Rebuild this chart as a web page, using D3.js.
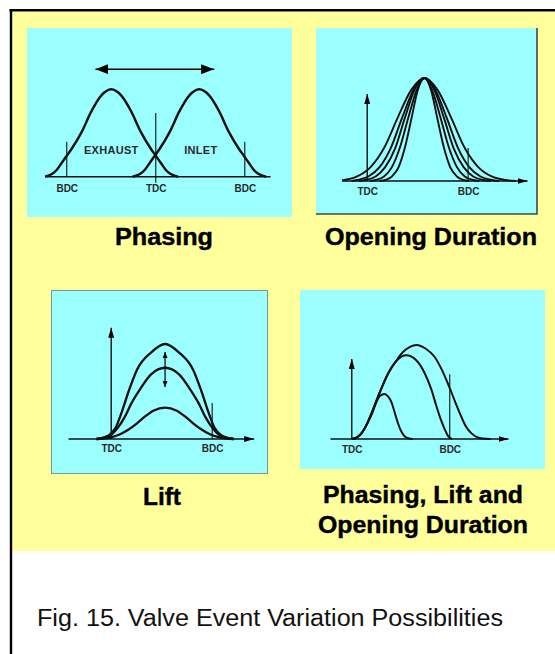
<!DOCTYPE html>
<html>
<head>
<meta charset="utf-8">
<script src="https://cdn.jsdelivr.net/npm/d3@7"></script>
<style>
  html, body { margin: 0; padding: 0; background: #fff; }
  svg { display: block; }
</style>
</head>
<body>
<svg id="chart" width="555" height="654"></svg>
<script>
// crank angle in degrees after TDC, valve lift on a 0-10 scale

// Phasing
var phasingAxis = [-224, 231];
var phasingTicks = [-180, 0, 180];
var phasingTickLabels = ["BDC", "TDC", "BDC"];
var exhaustLift = [[-224,0],[-210,0.3],[-200,0.8],[-190,1.6],[-180,2.4],[-170,3.2],[-150,5.1],[-130,7.5],[-110,9.3],[-90,10],[-70,9.3],[-50,7.5],[-30,5.1],[-10,3.2],[0,2.4],[10,1.6],[20,0.8],[30,0.3],[45,0]];
var inletLift = [[-47,0],[-32,0.3],[-22,0.8],[-12,1.6],[-2,2.4],[8,3.2],[28,5.1],[48,7.5],[68,9.3],[88,10],[108,9.3],[128,7.5],[148,5.1],[168,3.2],[178,2.4],[188,1.6],[198,0.8],[208,0.3],[223,0]];
var phasingMarkers = [[-180, 0, 4.0], [0, -0.7, 7.3], [180, 0, 4.0]];
var phasingShift = [-122, 118, 12.3];           // double arrow: from, to, at lift
var phasingLabels = ["EXHAUST", "INLET"];
var phasingLabelAt = [[-90, 2.6], [91, 2.6]];

// Opening duration
var durationAxis = [-45, 285];
var durationLifts = [
  [[-45,0.05],[-18,0.44],[6,1.35],[30,3.2],[54,6.1],[78,8.8],[102,10],[126,8.8],[150,6.1],[174,3.2],[198,1.35],[222,0.44],[246,0.1],[265,0]],
  [[-28,0],[-18,0.1],[2,0.44],[22,1.35],[42,3.2],[62,6.1],[82,8.8],[102,10],[122,8.8],[142,6.1],[162,3.2],[182,1.35],[202,0.44],[222,0.1],[235,0]],
  [[-15,0],[-3,0.1],[15,0.44],[32,1.35],[50,3.2],[67,6.1],[84,8.8],[102,10],[120,8.8],[137,6.1],[154,3.2],[172,1.35],[189,0.44],[207,0.1],[220,0]],
  [[5,0],[15,0.1],[30,0.44],[44,1.35],[58,3.2],[73,6.1],[88,8.8],[102,10],[116,8.8],[131,6.1],[146,3.2],[160,1.35],[174,0.44],[189,0.1],[200,0]],
  [[22,0],[33,0.1],[44,0.44],[56,1.35],[67,3.2],[79,6.1],[90,8.8],[102,10],[114,8.8],[125,6.1],[137,3.2],[148,1.35],[160,0.44],[171,0.1],[182,0]]
];
var durationMarkers = [[180, 0, 3.2]];
var durationLiftAxis = 8.45;

// Lift
var liftAxis = [-77, 254];
var liftLifts = [
  [[-26,0],[-14,0.15],[-2,0.5],[8,1.2],[18,2.7],[31,5.0],[46,7.3],[71,9.1],[96,10],[121,9.1],[146,7.3],[161,5.0],[174,2.7],[184,1.2],[194,0.5],[206,0.15],[218,0]],
  [[-26,0],[-14,0.12],[0,0.45],[12,1.2],[24,2.3],[36,3.75],[51,5.2],[71,6.8],[96,7.5],[121,6.8],[141,5.2],[156,3.75],[168,2.3],[180,1.2],[192,0.45],[206,0.12],[218,0]],
  [[-26,0],[-14,0.05],[1,0.2],[16,0.5],[31,1.0],[46,1.65],[61,2.4],[76,3.0],[96,3.3],[116,3.0],[131,2.4],[146,1.65],[161,1.0],[176,0.5],[191,0.2],[206,0.05],[218,0]]
];
var liftMarkers = [[180, 0, 3.8]];
var liftLiftAxis = 11.7;
var liftChange = [96, 9.16, 5.47];               // double arrow: at angle, from, to

// Phasing, lift and opening duration
var combinedAxis = [-40, 287];
var combinedLifts = [
  [[0,0],[9,0.15],[18,0.6],[27,1.5],[36,2.7],[51,4.9],[67,7.0],[82,8.35],[95,9.3],[107,9.8],[119,10],[136,9.6],[152,8.75],[166,7.3],[180,5.4],[191,3.8],[201,2.4],[210,1.3],[220,0.6],[230,0.2],[240,0.05],[255,0]],
  [[0,0],[9,0.15],[18,0.6],[27,1.5],[36,2.7],[51,4.9],[67,7.0],[82,8.3],[100,8.9],[118,8.4],[134,7.0],[146,5.3],[156,3.4],[164,2.0],[171,1.0],[177,0.3],[184,0]],
  [[0,0],[10,0.2],[20,0.8],[30,1.8],[38,2.8],[45,3.9],[52,4.6],[60,4.8],[67,4.5],[73,3.9],[79,2.8],[85,1.65],[91,0.8],[97,0.3],[104,0.08],[112,0]]
];
var combinedMarkers = [[180, 0, 6.9]];
var combinedLiftAxis = 8.5;

var strokeTicks = [0, 180];
var strokeTickLabels = ["TDC", "BDC"];

var caption = "Fig. 15. Valve Event Variation Possibilities";

var FONT = '"Liberation Sans", Arial, Helvetica, sans-serif';
var YELLOW = "#ffff9c";
var CYAN = "#9cffff";
var INK = "#111";

var svg = d3.select("#chart");
var defs = svg.append("defs");

function addHead(id, len, wid) {
  defs.append("marker")
    .attr("id", id)
    .attr("viewBox", "0 0 " + len + " " + wid)
    .attr("refX", len)
    .attr("refY", wid / 2)
    .attr("markerWidth", len)
    .attr("markerHeight", wid)
    .attr("markerUnits", "userSpaceOnUse")
    .attr("orient", "auto-start-reverse")
    .append("path")
    .attr("d", "M0,0L" + len + "," + (wid / 2) + "L0," + wid + "Z")
    .attr("fill", "#000");
}
addHead("head-big", 13, 10);
addHead("head-axis", 10, 6);
addHead("head-tiny", 6, 5);

// page frame
svg.append("rect")
  .attr("x", 12).attr("y", 12)
  .attr("width", 543).attr("height", 539)
  .attr("fill", YELLOW);
svg.append("line")
  .attr("x1", 9.5).attr("x2", 555).attr("y1", 10.3).attr("y2", 10.3)
  .attr("stroke", "#000").attr("stroke-width", 2.6);
svg.append("line")
  .attr("x1", 11).attr("x2", 11).attr("y1", 9).attr("y2", 654)
  .attr("stroke", "#000").attr("stroke-width", 2.4);

var panels = [
  {
    box: [27, 28, 265, 189], xRange: [45, 270], yRange: [176.7, 89.3],
    domain: phasingAxis, ticks: phasingTicks, tickLabels: phasingTickLabels, tickPad: 9,
    curves: [exhaustLift, inletLift], curveWidth: 2.4, markers: phasingMarkers,
    axisHead: false, liftAxisTop: null,
    title: ["Phasing"], titleX: 164, titleY: [245], titleW: [98]
  },
  {
    box: [316, 28, 221, 186], xRange: [342, 527], yRange: [181, 78], border: "corner",
    domain: durationAxis, ticks: strokeTicks, tickLabels: strokeTickLabels, tickPad: 7,
    curves: durationLifts, curveWidth: 1.9, markers: durationMarkers,
    axisHead: true, liftAxisTop: durationLiftAxis,
    title: ["Opening Duration"], titleX: 431, titleY: [245], titleW: [212]
  },
  {
    box: [51, 290, 217, 184], xRange: [68, 253.7], yRange: [439, 344], border: "full",
    domain: liftAxis, ticks: strokeTicks, tickLabels: strokeTickLabels, tickPad: 6,
    curves: liftLifts, curveWidth: 2.3, markers: liftMarkers,
    axisHead: true, liftAxisTop: liftLiftAxis,
    title: ["Lift"], titleX: 162, titleY: [505], titleW: [38]
  },
  {
    box: [300, 290, 245, 179], xRange: [330, 508], yRange: [439, 345],
    domain: combinedAxis, ticks: strokeTicks, tickLabels: strokeTickLabels, tickPad: 7,
    curves: combinedLifts, curveWidth: 2, markers: combinedMarkers,
    axisHead: true, liftAxisTop: combinedLiftAxis,
    title: ["Phasing, Lift and", "Opening Duration"], titleX: 423, titleY: [503, 533], titleW: [200, 210]
  }
];

panels.forEach(function(p, i) {
  var g = svg.append("g").attr("class", "panel panel-" + i);
  var b = p.box;

  g.append("rect")
    .attr("x", b[0]).attr("y", b[1])
    .attr("width", b[2]).attr("height", b[3])
    .attr("fill", CYAN);
  if (p.border == "corner") {
    g.append("path")
      .attr("d", "M" + (b[0] + b[2]) + "," + b[1] + "V" + (b[1] + b[3]) + "H" + b[0])
      .attr("fill", "none").attr("stroke", "#3c4a4a").attr("stroke-width", 1.6);
  } else if (p.border == "full") {
    g.append("rect")
      .attr("x", b[0] + 0.5).attr("y", b[1] + 0.5)
      .attr("width", b[2] - 1).attr("height", b[3] - 1)
      .attr("fill", "none").attr("stroke", "#556").attr("stroke-opacity", 0.6);
  }

  var x = d3.scaleLinear().domain(p.domain).range(p.xRange);
  var y = d3.scaleLinear().domain([0, 10]).range(p.yRange);

  // crank angle axis
  var xAxis = d3.axisBottom(x)
    .tickValues(p.ticks)
    .tickFormat(function(d, k) { return p.tickLabels[k]; })
    .tickSize(0)
    .tickPadding(p.tickPad);
  var axisG = g.append("g")
    .attr("class", "axis x")
    .attr("transform", "translate(0," + (y(0) - 0.5) + ")")
    .call(xAxis);
  axisG.select(".domain")
    .attr("stroke", INK)
    .attr("stroke-width", 1.4)
    .attr("marker-end", p.axisHead ? "url(#head-axis)" : null);
  axisG.selectAll(".tick text")
    .attr("font-family", FONT)
    .attr("font-weight", "bold")
    .attr("font-size", 10)
    .attr("fill", "#2a2a2a");

  // lift axis
  if (p.liftAxisTop != null) {
    g.append("line")
      .attr("x1", x(0)).attr("x2", x(0))
      .attr("y1", y(0)).attr("y2", y(p.liftAxisTop))
      .attr("stroke", INK).attr("stroke-width", 1.4)
      .attr("marker-end", "url(#head-axis)");
  }

  // TDC / BDC marker lines
  g.selectAll(".marker")
    .data(p.markers)
    .enter()
    .append("line")
    .attr("class", "marker")
    .attr("x1", function(d) { return x(d[0]); })
    .attr("x2", function(d) { return x(d[0]); })
    .attr("y1", function(d) { return y(d[1]); })
    .attr("y2", function(d) { return y(d[2]); })
    .attr("stroke", INK)
    .attr("stroke-width", 1.1);

  // lift curves
  var line = d3.line()
    .x(function(d) { return x(d[0]); })
    .y(function(d) { return y(d[1]); })
    .curve(d3.curveMonotoneX);
  g.selectAll(".lift-curve")
    .data(p.curves)
    .enter()
    .append("path")
    .attr("class", "lift-curve")
    .attr("d", line)
    .attr("fill", "none")
    .attr("stroke", INK)
    .attr("stroke-width", p.curveWidth)
    .attr("stroke-linejoin", "round");

  // extras for individual panels
  if (i == 0) {
    g.append("line")
      .attr("x1", x(phasingShift[0])).attr("x2", x(phasingShift[1]))
      .attr("y1", y(phasingShift[2])).attr("y2", y(phasingShift[2]))
      .attr("stroke", "#000").attr("stroke-width", 1.6)
      .attr("marker-start", "url(#head-big)")
      .attr("marker-end", "url(#head-big)");
    g.selectAll(".curve-label")
      .data(phasingLabels)
      .enter()
      .append("text")
      .attr("class", "curve-label")
      .attr("x", function(d, k) { return x(phasingLabelAt[k][0]); })
      .attr("y", function(d, k) { return y(phasingLabelAt[k][1]); })
      .attr("text-anchor", "middle")
      .attr("font-family", FONT)
      .attr("font-weight", "bold")
      .attr("font-size", 11)
      .attr("letter-spacing", 0.3)
      .attr("fill", "#2a2a2a")
      .text(function(d) { return d; });
  }
  if (i == 2) {
    g.append("line")
      .attr("x1", x(liftChange[0])).attr("x2", x(liftChange[0]))
      .attr("y1", y(liftChange[1])).attr("y2", y(liftChange[2]))
      .attr("stroke", "#000").attr("stroke-width", 1.2)
      .attr("marker-start", "url(#head-tiny)")
      .attr("marker-end", "url(#head-tiny)");
  }

  // title under the panel
  p.title.forEach(function(t, k) {
    svg.append("text")
      .attr("class", "title")
      .attr("x", p.titleX)
      .attr("y", p.titleY[k])
      .attr("text-anchor", "middle")
      .attr("font-family", FONT)
      .attr("font-weight", "bold")
      .attr("font-size", 23)
      .attr("stroke", "#000")
      .attr("stroke-width", 0.4)
      .attr("textLength", p.titleW[k])
      .attr("lengthAdjust", "spacingAndGlyphs")
      .text(t);
  });
});

svg.append("text")
  .attr("x", 37)
  .attr("y", 626)
  .attr("font-family", FONT)
  .attr("font-size", 23)
  .attr("fill", "#111")
  .attr("textLength", 466)
  .attr("lengthAdjust", "spacingAndGlyphs")
  .text(caption);
</script>
</body>
</html>
